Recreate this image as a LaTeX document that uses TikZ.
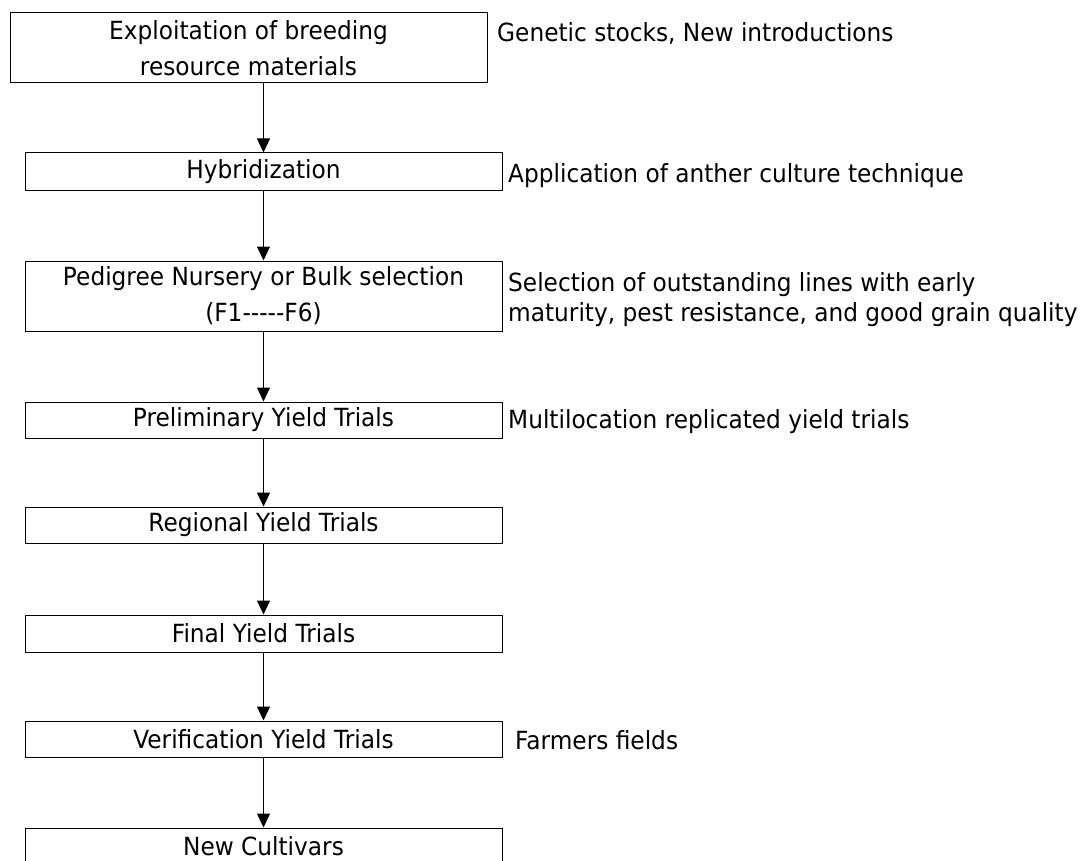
\documentclass[tikz,border=0pt]{standalone}
\usepackage{fontspec}
\setmainfont[FakeStretch=0.93]{DejaVu Sans}
\usetikzlibrary{arrows.meta}

\begin{document}
\begin{tikzpicture}[x=1pt,y=-1pt,
    stage/.style={draw,line width=1pt,minimum width=477pt,inner sep=0pt,align=center,
      font=\fontsize{25}{36}\selectfont},
    note/.style={anchor=west,inner sep=0pt,align=left,font=\fontsize{25}{30}\selectfont},
    flow/.style={line width=1pt,-{Triangle[length=14pt,width=13pt]}}]
      \useasboundingbox (0,0) rectangle (1086,861);
      \node[stage,minimum height=70pt] (expl) at (248.5,48) {Exploitation of breeding\\resource materials};
      \node[stage,minimum height=38pt] (hyb) at (263.5,172) {Hybridization};
      \node[stage,minimum height=70pt] (ped) at (263.5,296) {Pedigree Nursery or Bulk selection\\(F1-{}-{}-{}-{}-F6)};
      \node[stage,minimum height=36pt] (prelim) at (263.5,420) {Preliminary Yield Trials};
      \node[stage,minimum height=36pt] (regional) at (263.5,525) {Regional Yield Trials};
      \node[stage,minimum height=37pt] (final) at (263.5,633.5) {Final Yield Trials};
      \node[stage,minimum height=36pt] (verif) at (263.5,739) {Verification Yield Trials};
      \node[stage,minimum height=36pt] (newcult) at (263.5,846) {New Cultivars};
      \node[note] (ngen) at (497,33) {Genetic stocks, New introductions};
      \node[note] (nanther) at (508,176) {Application of anther culture technique};
      \node[note] (nsel) at (508,300) {Selection of outstanding lines with early\\maturity, pest resistance, and good grain quality};
      \node[note] (nmulti) at (508,422) {Multilocation replicated yield trials};
      \node[note] (nfarm) at (515,740) {Farmers fields};
      \draw[flow] (expl.south -| hyb.north) -- (hyb.north);
      \draw[flow] (hyb) -- (ped);
      \draw[flow] (ped) -- (prelim);
      \draw[flow] (prelim) -- (regional);
      \draw[flow] (regional) -- (final);
      \draw[flow] (final) -- (verif);
      \draw[flow] (verif) -- (newcult);
    \end{tikzpicture}
\end{document}
